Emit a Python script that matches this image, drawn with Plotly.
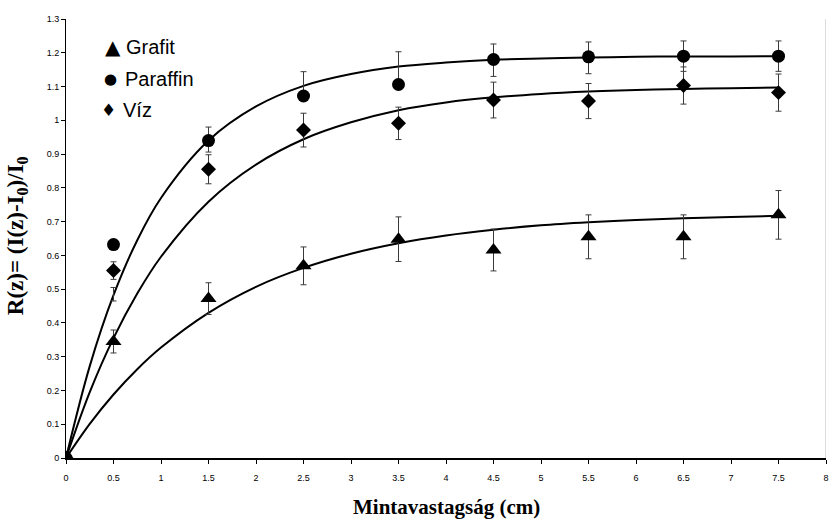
import plotly.graph_objects as go

# Measured points (sample thickness in cm)
thickness = [0, 0.5, 1.5, 2.5, 3.5, 4.5, 5.5, 6.5, 7.5]

grafit = [0, 0.345, 0.472, 0.569, 0.648, 0.616, 0.655, 0.655, 0.72]
grafit_err = [0, 0.034, 0.047, 0.056, 0.066, 0.062, 0.065, 0.065, 0.072]

paraffin = [0, 0.632, 0.94, 1.072, 1.106, 1.18, 1.188, 1.19, 1.19]
# paraffin uncertainty bars sit on the fitted curve values
paraffin_bar_center = [0, 0.485, 0.943, 1.102, 1.158, 1.178, 1.185, 1.19, 1.19]
paraffin_err = [0, 0.02, 0.037, 0.042, 0.045, 0.048, 0.047, 0.045, 0.045]

viz = [0, 0.555, 0.855, 0.971, 0.991, 1.06, 1.057, 1.103, 1.082]
viz_err = [0, 0.026, 0.043, 0.05, 0.048, 0.053, 0.052, 0.055, 0.055]

# Saturation trend lines
fit_x = [0, 0.25, 0.5, 0.75, 1, 1.5, 2, 2.5, 3, 3.5, 4, 4.5, 5, 5.5, 6, 6.5, 7, 7.5]
fit_grafit = [0, 0.101, 0.188, 0.263, 0.327, 0.430, 0.507, 0.563, 0.605, 0.636,
              0.659, 0.676, 0.689, 0.698, 0.705, 0.710, 0.714, 0.717]
fit_paraffin = [0, 0.272, 0.482, 0.645, 0.770, 0.940, 1.041, 1.102, 1.137, 1.159,
                1.171, 1.179, 1.183, 1.186, 1.188, 1.189, 1.189, 1.190]
fit_viz = [0, 0.195, 0.355, 0.487, 0.596, 0.759, 0.869, 0.944, 0.994, 1.030,
           1.053, 1.068, 1.078, 1.085, 1.090, 1.093, 1.095, 1.097]

x_ticks = [i * 0.5 for i in range(17)]
x_ticktext = ["0", "0.5", "1", "1.5", "2", "2.5", "3", "3.5", "4", "4.5",
              "5", "5.5", "6", "6.5", "7", "7.5", "8"]
y_ticks = [i / 10 for i in range(14)]
y_ticktext = ["0", "0.1", "0.2", "0.3", "0.4", "0.5", "0.6", "0.7", "0.8",
              "0.9", "1", "1.1", "1.2", "1.3"]

W, H = 831, 527
L, R, T, B = 66, 2, 19, 69
pw, ph = W - L - R, H - T - B

def px(x):
    return (x - L) / pw

def py(y):
    return (H - B - y) / ph

fig = go.Figure()

for fy in (fit_grafit, fit_paraffin, fit_viz):
    fig.add_trace(go.Scatter(x=fit_x, y=fy, mode="lines", line_shape="spline",
                             line=dict(color="black", width=2), showlegend=False,
                             hoverinfo="skip"))

err_style = dict(type="data", color="#3a3a3a", thickness=1, width=3)

fig.add_trace(go.Scatter(
    x=thickness, y=paraffin_bar_center, mode="markers",
    marker=dict(size=1, color="rgba(0,0,0,0)"),
    error_y=dict(array=paraffin_err, **err_style), showlegend=False))

fig.add_trace(go.Scatter(
    x=thickness, y=viz, mode="markers", name="Víz",
    marker=dict(symbol="diamond", size=11.5, color="black"),
    error_y=dict(array=viz_err, **err_style), showlegend=False))

fig.add_trace(go.Scatter(
    x=thickness, y=paraffin, mode="markers", name="Paraffin",
    marker=dict(symbol="circle", size=13, color="black"), showlegend=False))

fig.add_trace(go.Scatter(
    x=thickness, y=grafit, mode="markers", name="Grafit",
    marker=dict(symbol="triangle-up", size=14, color="black"),
    error_y=dict(array=grafit_err, **err_style), showlegend=False))

# right edge of the plot area
fig.add_shape(type="line", xref="x", yref="paper", x0=8, x1=8, y0=0, y1=1,
              line=dict(color="#b8b8b8", width=1))

sans = "Liberation Sans, Arial, sans-serif"
serif = "Liberation Serif, Times New Roman, serif"

legend_rows = [("▲", "Grafit", 113, 47, 20, 124),
               ("●", "Paraffin", 110.5, 78.5, 15, 123),
               ("♦", "Víz", 109, 110, 17, 121)]
for sym, label, sx, sy, ssize, tx in legend_rows:
    fig.add_annotation(x=px(sx), y=py(sy), xref="paper", yref="paper",
                       text=sym, showarrow=False, xanchor="center", yanchor="middle",
                       font=dict(family="DejaVu Sans", size=ssize, color="black"))
    fig.add_annotation(x=px(tx), y=py(sy), xref="paper", yref="paper",
                       text=label, showarrow=False, xanchor="left", yanchor="middle",
                       font=dict(family=sans, size=20, color="black"))

fig.add_annotation(x=px(17), y=py(236), xref="paper", yref="paper",
                   text="R(z)= (I(z)-I<sub>0</sub>)/I<sub>0</sub>", textangle=-90,
                   showarrow=False, xanchor="center", yanchor="middle",
                   font=dict(family=serif, size=23, color="black", weight="bold"))

fig.add_annotation(x=0.5, y=py(507), xref="paper", yref="paper",
                   text="Mintavastagság (cm)", showarrow=False,
                   xanchor="center", yanchor="middle",
                   font=dict(family=serif, size=21, color="black", weight="bold"))

fig.update_xaxes(range=[0, 8], tickvals=x_ticks, ticktext=x_ticktext,
                 ticks="outside", ticklen=4, tickcolor="black", tickwidth=1,
                 ticklabelstandoff=6, ticklabeloverflow="allow",
                 showline=True, linecolor="black", linewidth=1.5,
                 showgrid=False, zeroline=False,
                 tickfont=dict(family=sans, size=9, color="black"))
fig.update_yaxes(range=[0, 1.3], tickvals=y_ticks, ticktext=y_ticktext,
                 ticks="outside", ticklen=4, tickcolor="black", tickwidth=1,
                 showline=True, linecolor="black", linewidth=1,
                 showgrid=False, zeroline=False,
                 tickfont=dict(family=sans, size=9, color="black"))

fig.update_layout(width=W, height=H, margin=dict(l=L, r=R, t=T, b=B),
                  plot_bgcolor="white", paper_bgcolor="white")

fig.write_html("out.html")
